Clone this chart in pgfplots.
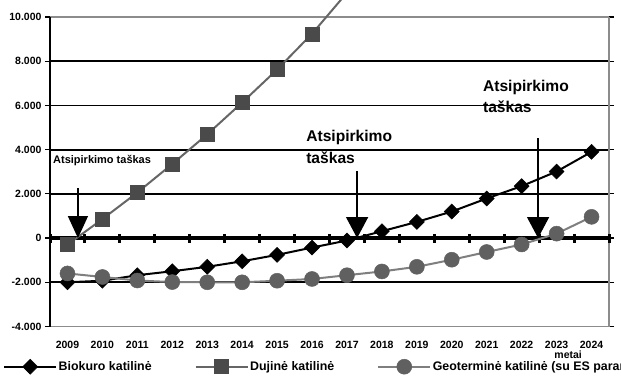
\documentclass[border=0pt]{standalone}
\usepackage{fontspec}
\setmainfont{Liberation Sans}
\usepackage{pgfplots}
\pgfplotsset{compat=1.18}
\usetikzlibrary{arrows.meta}
\definecolor{dujLine}{HTML}{666666}
\definecolor{dujMark}{HTML}{4A4A4A}
\definecolor{geoLine}{HTML}{7F7F7F}
\definecolor{geoMark}{HTML}{606060}
\definecolor{frameGray}{HTML}{8C8C8C}
\begin{document}
\begin{tikzpicture}
\path[use as bounding box, clip] (0pt,0pt) rectangle (621pt,383pt);
\begin{axis}[
  at={(50pt,56.5pt)}, anchor=south west,
  scale only axis, width=559pt, height=309.5pt,
  xmin=-0.5, xmax=15.5, ymin=-4000, ymax=10000,
  axis line style={draw=none},
  clip=false,
  scaled y ticks=false, scaled x ticks=false,
  xtick={0,1,2,3,4,5,6,7,8,9,10,11,12,13,14,15},
  xticklabels={2009,2010,2011,2012,2013,2014,2015,2016,2017,2018,2019,2020,2021,2022,2023,2024},
  xtick style={draw=none},
  ytick={-4000,-2000,0,2000,4000,6000,8000,10000},
  yticklabels={-4.000,-2.000,0,2.000,4.000,6.000,8.000,10.000},
  ytick style={black, line width=1.2pt},
  tick align=outside, major tick length=5pt,
  ticklabel style={font=\bfseries\fontsize{10.5}{12}\selectfont},
  xticklabel style={yshift=-6pt},
  xlabel={metai},
  xlabel style={at={(axis description cs:0.927,-0.0905)}, anchor=center, inner sep=0pt, font=\bfseries\fontsize{10.5}{12}\selectfont},
  legend columns=3,
  legend style={at={(axis description cs:-0.0841,-0.1300)}, anchor=west, draw=none, fill=none, inner sep=0pt,
    font=\bfseries\fontsize{12.4}{15}\selectfont,
    nodes={inner xsep=1.5pt},
    /tikz/every even column/.append style={column sep=41.5pt}},
  legend cell align=left,
  legend image code/.code={\draw[#1, mark repeat=2, mark phase=2] plot coordinates {(0pt,0pt) (26pt,0pt) (52pt,0pt)};},
]
% grid and frame
\draw[black, line width=1.8pt] (axis cs:-0.5,-2000) -- (axis cs:15.5,-2000);
\draw[black, line width=1.8pt] (axis cs:-0.5,2000) -- (axis cs:15.5,2000);
\draw[black, line width=1.8pt] (axis cs:-0.5,4000) -- (axis cs:15.5,4000);
\draw[black, line width=1.8pt] (axis cs:-0.5,6000) -- (axis cs:15.5,6000);
\draw[black, line width=1.8pt] (axis cs:-0.5,8000) -- (axis cs:15.5,8000);
\draw[frameGray, line width=2pt] (axis cs:-0.5,10000) -- (axis cs:15.5,10000);
\draw[frameGray, line width=1.6pt] (axis cs:-0.5,-4000) -- (axis cs:15.5,-4000);
\draw[frameGray, line width=2pt] (axis cs:15.5,-4000) -- (axis cs:15.5,10000);
\draw[black, line width=2.5pt] (axis cs:-0.5,-4000) -- (axis cs:-0.5,10000);
\draw[black, line width=4pt] (axis cs:-0.5,0) -- (axis cs:15.5,0);
\pgfplotsinvokeforeach{-0.5,0.5,1.5,2.5,3.5,4.5,5.5,6.5,7.5,8.5,9.5,10.5,11.5,12.5,13.5,14.5,15.5}{
  \draw[black, line width=3pt] ([yshift=-4.5pt]axis cs:#1,0) -- ([yshift=4.5pt]axis cs:#1,0);
}
% series
\addplot[black, line width=2pt, mark=diamond*, mark size=7.5pt, mark options={fill=black, draw=black, xscale=1.33, line width=0.5pt}]
coordinates {(0,-2000) (1,-1930) (2,-1680) (3,-1500) (4,-1300) (5,-1050) (6,-760) (7,-430) (8,-110) (9,310) (10,730) (11,1200) (12,1790) (13,2350) (14,3010) (15,3900)};
\addlegendentry{Biokuro katilinė}
\addplot[dujLine, line width=2pt, mark=square*, mark size=7pt, mark options={fill=dujMark, draw=dujMark, line width=0.5pt}]
coordinates {(0,-300) (1,860) (2,2060) (3,3350) (4,4690) (5,6130) (6,7620) (7,9240) (8,11100)};
\addlegendentry{Dujinė katilinė}
\addplot[geoLine, line width=2pt, mark=*, mark size=7.5pt, mark options={fill=geoMark, draw=geoMark, line width=0.5pt}]
coordinates {(0,-1600) (1,-1760) (2,-1920) (3,-1990) (4,-2000) (5,-2000) (6,-1930) (7,-1850) (8,-1680) (9,-1510) (10,-1300) (11,-980) (12,-630) (13,-290) (14,200) (15,960)};
\addlegendentry{Geoterminė katilinė (su ES parama)}
% arrows and annotations
\draw[black, line width=1.3pt, -{Triangle[width=20pt,length=22pt]}] (axis cs:0.30,2260) -- (axis cs:0.30,0);
\draw[black, line width=1.3pt, -{Triangle[width=22pt,length=21pt]}] (axis cs:8.29,3030) -- (axis cs:8.29,0);
\draw[black, line width=1.3pt, -{Triangle[width=22pt,length=21pt]}] (axis cs:13.47,4520) -- (axis cs:13.47,0);
\node[anchor=base west, inner sep=0pt, font=\bfseries\fontsize{11}{13}\selectfont] at (axis cs:-0.415,3390) {Atsipirkimo taškas};
\node[anchor=base west, inner sep=0pt, font=\bfseries\fontsize{15.6}{18}\selectfont] at (axis cs:6.83,4390) {Atsipirkimo};
\node[anchor=base west, inner sep=0pt, font=\bfseries\fontsize{15.6}{18}\selectfont] at (axis cs:6.83,3390) {taškas};
\node[anchor=base west, inner sep=0pt, font=\bfseries\fontsize{15.6}{18}\selectfont] at (axis cs:11.89,6650) {Atsipirkimo};
\node[anchor=base west, inner sep=0pt, font=\bfseries\fontsize{15.6}{18}\selectfont] at (axis cs:11.89,5660) {taškas};
\end{axis}
\end{tikzpicture}
\end{document}
